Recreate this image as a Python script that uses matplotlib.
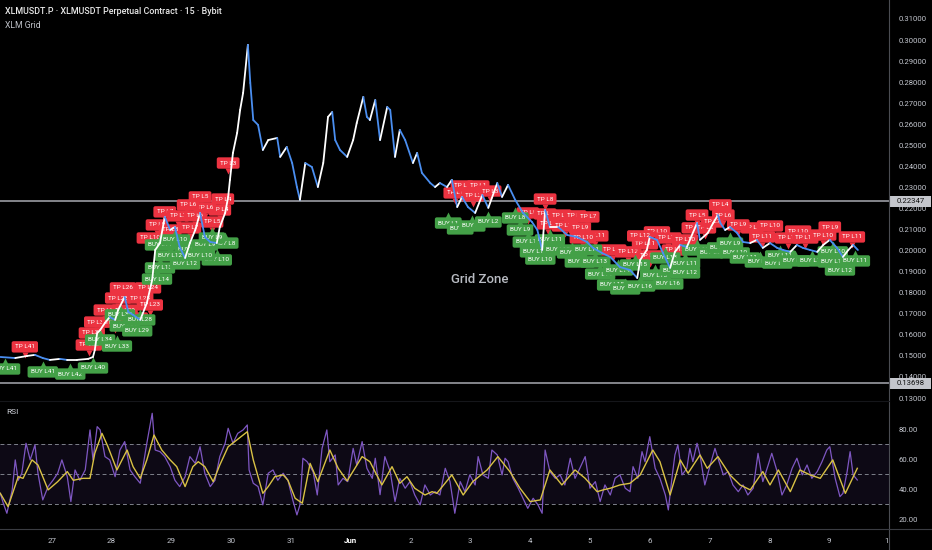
import matplotlib
matplotlib.use("Agg")
import matplotlib.pyplot as plt
import numpy as np
from matplotlib.collections import LineCollection
from matplotlib.patches import Rectangle
from matplotlib import transforms

plt.rcParams['font.family'] = ['Roboto', 'DejaVu Sans']

# x axis is "day of May" (32 = Jun 1)
price_day = [26.14, 26.39, 26.59, 26.72, 26.85, 26.97, 27.14, 27.26, 27.42, 27.61, 27.69, 27.72, 27.76, 27.81,
             27.89, 27.97, 28.06, 28.11, 28.22, 28.28, 28.36, 28.48, 28.59, 28.68, 28.73, 28.81, 28.89, 28.98,
             29.06, 29.14, 29.23, 29.31, 29.40, 29.48, 29.56, 29.65, 29.76, 29.81, 29.90, 29.95, 29.98, 30.03,
             30.10, 30.15, 30.20, 30.28, 30.32, 30.37, 30.45, 30.53, 30.62, 30.77, 30.82, 30.93, 31.02, 31.10,
             31.15, 31.24, 31.35, 31.45, 31.54, 31.62, 31.69, 31.74, 31.82, 31.94, 32.04, 32.10, 32.21, 32.27,
             32.32, 32.41, 32.49, 32.61, 32.66, 32.74, 32.82, 32.91, 33.04, 33.11, 33.19, 33.33, 33.41, 33.49,
             33.61, 33.69, 33.78, 33.86, 33.96, 34.08, 34.20, 34.30, 34.45, 34.53, 34.63, 34.75, 34.88, 35.03,
             35.12, 35.20, 35.25, 35.33, 35.47, 35.62, 35.78, 35.95, 36.05, 36.20, 36.34, 36.50, 36.67, 36.79,
             36.84, 36.95, 37.00, 37.12, 37.22, 37.34, 37.42, 37.51, 37.62, 37.79, 37.84, 37.97, 38.06, 38.14,
             38.18, 38.26, 38.34, 38.46, 38.56, 38.68, 38.79, 38.89, 39.01, 39.13, 39.23, 39.35, 39.46, 39.56,
             39.68, 39.80, 39.90, 40.01, 40.13, 40.23, 40.32, 40.40, 40.48]
price = [0.1495, 0.1490, 0.1500, 0.1505, 0.1490, 0.1481, 0.1486, 0.1481, 0.1481, 0.1486, 0.1495, 0.1528, 0.1609, 0.1623,
         0.1657, 0.1685, 0.1671, 0.1718, 0.1780, 0.1709, 0.1695, 0.1671, 0.1751, 0.1861, 0.2003, 0.2036, 0.2160, 0.2098,
         0.2112, 0.2017, 0.1965, 0.2036, 0.2098, 0.2179, 0.2065, 0.2041, 0.2036, 0.2112, 0.2179, 0.2255, 0.2336, 0.2464,
         0.2559, 0.2668, 0.2749, 0.2977, 0.2796, 0.2620, 0.2597, 0.2478, 0.2525, 0.2535, 0.2445, 0.2492, 0.2416, 0.2302,
         0.2241, 0.2416, 0.2397, 0.2302, 0.2416, 0.2635, 0.2658, 0.2525, 0.2478, 0.2445, 0.2525, 0.2606, 0.2730, 0.2635,
         0.2620, 0.2715, 0.2525, 0.2682, 0.2668, 0.2445, 0.2573, 0.2525, 0.2416, 0.2464, 0.2369, 0.2321, 0.2302, 0.2321,
         0.2302, 0.2336, 0.2207, 0.2255, 0.2207, 0.2179, 0.2264, 0.2203, 0.2321, 0.2255, 0.2312, 0.2241, 0.2179, 0.2136,
         0.2098, 0.2003, 0.2193, 0.2112, 0.2112, 0.2074, 0.2065, 0.2041, 0.2013, 0.1989, 0.1970, 0.1922, 0.1908, 0.1870,
         0.1956, 0.2003, 0.2065, 0.2051, 0.1989, 0.1918, 0.1994, 0.2027, 0.2017, 0.2131, 0.2051, 0.2084, 0.2131, 0.2169,
         0.2131, 0.2098, 0.2112, 0.2084, 0.2041, 0.2036, 0.2051, 0.2013, 0.2036, 0.2013, 0.2003, 0.1994, 0.2027, 0.2013,
         0.2003, 0.1994, 0.2027, 0.2051, 0.2013, 0.1970, 0.2003, 0.2027, 0.2003]

tp_day = [26.55, 27.62, 27.67, 27.76, 28.06, 27.92, 28.22, 28.11, 28.48, 28.19, 28.61, 28.64, 28.39,
          29.48, 29.86, 28.89, 29.11, 28.76, 29.40, 29.68, 29.81, 28.64, 28.98, 29.31, 29.56, 29.28, 29.95,
          33.74, 33.86, 34.13, 34.04, 34.33, 35.25,
          34.96, 35.25, 35.50, 35.75, 35.97, 35.30, 35.58, 35.83, 36.09, 35.88,
          36.39, 36.64, 36.92, 37.12, 37.31, 37.42, 37.59, 37.72, 37.00, 36.84,
          38.18, 37.79, 38.23, 37.92, 38.04,
          38.71, 39.01, 38.88, 38.48, 39.48, 39.31, 39.60, 40.01, 39.90, 40.38]
tp_price = [0.1543, 0.1552, 0.1609, 0.1661, 0.1661, 0.1718, 0.1718, 0.1775, 0.1775, 0.1823, 0.1823, 0.1742, 0.1680,
            0.2255, 0.2245, 0.2184, 0.2165, 0.2122, 0.2165, 0.2136, 0.2193, 0.2060, 0.2098, 0.2108, 0.2203, 0.2217, 0.2416,
            0.2274, 0.2307, 0.2307, 0.2260, 0.2283, 0.2245,
            0.2179, 0.2174, 0.2169, 0.2165, 0.2160, 0.2127, 0.2117, 0.2108, 0.2070, 0.2060,
            0.2003, 0.1994, 0.2032, 0.2089, 0.2060, 0.2003, 0.2051, 0.2108, 0.1975, 0.2070,
            0.2217, 0.2169, 0.2169, 0.2108, 0.2136,
            0.2108, 0.2117, 0.2065, 0.2122, 0.2093, 0.2060, 0.2060, 0.2112, 0.2074, 0.2065]
tp_text = ["TP L41", "TP L38", "TP L36", "TP L34", "TP L32", "TP L30", "TP L29", "TP L28", "TP L25", "TP L26",
           "TP L24", "TP L23", "TP L27",
           "TP L5", "TP L4", "TP L7", "TP L7", "TP L9", "TP L6", "TP L5", "TP L4", "TP L10", "TP L8", "TP L7",
           "TP L6", "TP L6", "TP L3",
           "TP L1", "TP L1", "TP L1", "TP L2", "TP L3", "TP L8",
           "TP L9", "TP L8", "TP L7", "TP L7", "TP L7", "TP L9", "TP L10", "TP L9", "TP L11", "TP L10",
           "TP L10", "TP L12", "TP L11", "TP L10", "TP L11", "TP L12", "TP L10", "TP L9", "TP L13", "TP L12",
           "TP L4", "TP L5", "TP L6", "TP L8", "TP L7",
           "TP L9", "TP L10", "TP L11", "TP L9", "TP L10", "TP L11", "TP L11", "TP L9", "TP L10", "TP L11"]

buy_day = [26.22, 26.85, 27.31, 27.69, 27.81, 28.09, 28.22, 28.43, 28.14, 28.48,
           28.76, 28.81, 29.23, 29.76, 29.90, 28.81, 29.06, 29.31, 29.56, 28.98, 29.48, 29.68,
           33.63, 33.83, 34.03, 34.30,
           34.75, 34.83, 34.96, 35.08, 35.17, 35.33, 35.47, 35.70, 35.95, 35.83, 36.09, 36.17,
           36.37, 36.59, 36.84, 36.47, 36.75, 37.09, 37.31, 37.42, 37.26,
           37.59, 37.59, 37.79, 38.01, 38.21, 38.34, 38.42, 38.59, 38.84, 39.13, 39.18, 39.43,
           39.71, 40.06, 40.06, 40.43, 40.18]
buy_price = [0.1438, 0.1424, 0.1414, 0.1443, 0.1576, 0.1547, 0.1642, 0.1619, 0.1695, 0.1671,
             0.1865, 0.1918, 0.1937, 0.1956, 0.2036, 0.2027, 0.2051, 0.2003, 0.2027, 0.1975, 0.1979, 0.2060,
             0.2131, 0.2103, 0.2117, 0.2136,
             0.2155, 0.2098, 0.2041, 0.1994, 0.1960, 0.2051, 0.2003, 0.1989, 0.2003, 0.1946, 0.1946, 0.1889,
             0.1837, 0.1818, 0.1832, 0.1908, 0.1932, 0.1884, 0.1842, 0.1908, 0.1965,
             0.1941, 0.1894, 0.2003, 0.1989, 0.2013, 0.2036, 0.1989, 0.1965, 0.1946, 0.1941, 0.1975, 0.1951,
             0.1951, 0.1946, 0.1994, 0.1951, 0.1908]
buy_text = ["BUY L41", "BUY L41", "BUY L42", "BUY L40", "BUY L34", "BUY L33", "BUY L31", "BUY L29", "BUY L30",
            "BUY L28",
            "BUY L14", "BUY L13", "BUY L12", "BUY L10", "BUY L8", "BUY L11", "BUY L10", "BUY L11", "BUY L9",
            "BUY L12", "BUY L10", "BUY L9",
            "BUY L1", "BUY L1", "BUY L2", "BUY L2",
            "BUY L8", "BUY L9", "BUY L10", "BUY L11", "BUY L10", "BUY L11", "BUY L12", "BUY L12", "BUY L11",
            "BUY L13", "BUY L13", "BUY L14",
            "BUY L15", "BUY L16", "BUY L16", "BUY L14", "BUY L15", "BUY L15", "BUY L16", "BUY L14", "BUY L13",
            "BUY L11", "BUY L12", "BUY L10", "BUY L9", "BUY L10", "BUY L9", "BUY L10", "BUY L11", "BUY L11",
            "BUY L11", "BUY L11", "BUY L11", "BUY L11", "BUY L11", "BUY L10", "BUY L11", "BUY L12"]

rsi_day = [26.14, 26.19, 26.25, 26.34, 26.39, 26.44, 26.50, 26.57, 26.64, 26.72, 26.77, 26.85, 26.94, 27.02,
           27.10, 27.17, 27.26, 27.32, 27.39, 27.47, 27.56, 27.64, 27.69, 27.76, 27.81, 27.89, 27.97, 28.06,
           28.14, 28.22, 28.31, 28.39, 28.48, 28.59, 28.68, 28.73, 28.81, 28.89, 28.98, 29.06, 29.14, 29.23,
           29.31, 29.40, 29.48, 29.56, 29.65, 29.73, 29.81, 29.90, 29.95, 30.03, 30.11, 30.20, 30.27, 30.30,
           30.37, 30.45, 30.53, 30.62, 30.70, 30.78, 30.87, 30.95, 31.03, 31.10,
           31.15, 31.20, 31.27, 31.37, 31.44, 31.52, 31.60, 31.65, 31.74, 31.79, 31.87, 31.95, 32.04, 32.10,
           32.19, 32.27, 32.36, 32.41, 32.49, 32.57, 32.66, 32.74, 32.82, 32.91, 32.99, 33.07, 33.16, 33.24,
           33.33, 33.41, 33.49, 33.58, 33.66, 33.74, 33.83, 33.91, 33.99, 34.08, 34.13, 34.21, 34.30, 34.36,
           34.45, 34.53, 34.58, 34.63, 34.71, 34.80, 34.88, 34.96, 35.05, 35.13, 35.20, 35.25, 35.33, 35.42,
           35.50, 35.58, 35.67, 35.75, 35.83, 35.92,
           36.00, 36.09, 36.17, 36.25, 36.34, 36.42, 36.50, 36.59, 36.67, 36.72, 36.80, 36.87, 36.92, 37.00,
           37.09, 37.17, 37.26, 37.31, 37.37, 37.42, 37.47, 37.54, 37.62, 37.67, 37.72, 37.79, 37.84, 37.92,
           38.01, 38.09, 38.14, 38.23, 38.31, 38.39, 38.48, 38.56, 38.64, 38.73, 38.81, 38.89, 38.98, 39.04,
           39.13, 39.21, 39.29, 39.38, 39.46, 39.55, 39.63, 39.71, 39.80, 39.88, 39.96, 40.01, 40.10, 40.18,
           40.23, 40.30, 40.35, 40.40, 40.47]
rsi = [37.3, 30.7, 24.0, 39.6, 59.6, 46.0, 50.7, 70.7, 59.6, 69.6, 50.7, 32.9, 41.8, 46.0,
       50.7, 59.6, 48.4, 31.8, 52.9, 46.0, 52.9, 79.6, 59.6, 81.8, 79.6, 61.8, 59.6, 48.4,
       66.2, 71.8, 52.9, 48.4, 44.0, 70.7, 90.7, 66.2, 65.1, 61.8, 55.1, 46.0, 41.8, 48.4,
       61.8, 57.3, 68.4, 50.7, 41.8, 46.0, 61.8, 70.7, 80.7, 70.7, 77.3, 79.6, 82.9, 52.9,
       44.0, 41.8, 29.6, 50.7, 52.9, 46.0, 50.7, 46.0, 32.9, 22.9,
       29.6, 60.7, 58.4, 51.8, 36.2, 67.3, 79.6, 58.4, 62.9, 42.9, 47.3, 45.1, 67.3, 56.2,
       71.8, 54.0, 47.3, 60.7, 36.4, 61.8, 51.8, 31.8, 47.3, 40.7, 45.1, 36.2, 29.6, 42.9,
       36.2, 38.4, 36.2, 54.0, 45.1, 24.0, 45.1, 38.4, 49.6, 42.9, 61.8, 49.6, 47.3, 66.2,
       62.9, 49.6, 60.7, 58.4, 47.3, 40.7, 34.0, 27.3, 34.0, 29.6, 24.0, 66.2, 51.8, 47.3,
       49.6, 42.9, 60.7, 47.3, 54.0, 61.8,
       40.7, 45.1, 31.8, 42.9, 36.2, 47.3, 49.6, 40.7, 38.4, 55.1, 47.3, 65.1, 58.4, 75.1,
       54.0, 47.3, 36.2, 26.2, 47.3, 62.9, 69.6, 49.6, 54.0, 67.3, 58.4, 70.7, 62.9, 42.9,
       56.2, 67.3, 60.7, 49.6, 51.8, 42.9, 38.4, 42.9, 36.2, 40.7, 64.0, 45.1, 56.2, 64.0,
       51.8, 36.2, 42.9, 54.0, 60.7, 49.6, 56.2, 47.3, 51.8, 58.4, 66.2, 68.4, 47.3, 35.1,
       37.3, 51.8, 65.1, 49.6, 46.2]

ma_day = [26.14, 26.27, 26.44, 26.52, 26.67, 26.77, 26.94, 27.10, 27.26, 27.36, 27.52, 27.64, 27.72, 27.84,
          27.94, 28.09, 28.26, 28.36, 28.48, 28.59, 28.71, 28.84, 28.98, 29.09, 29.23, 29.36, 29.45, 29.56,
          29.70, 29.81, 29.95, 30.06, 30.27, 30.37, 30.53, 30.62, 30.73, 30.87, 30.95, 31.07, 31.19, 31.32,
          31.45, 31.65, 31.79, 31.94, 32.19, 32.32, 32.52, 32.69, 32.82, 32.94, 33.07, 33.24, 33.36, 33.44,
          33.69, 33.88, 34.04, 34.28, 34.46, 34.66, 34.83, 35.00, 35.17, 35.33, 35.53, 35.75, 35.92, 36.12,
          36.22, 36.34, 36.50, 36.67, 36.84, 37.05, 37.17, 37.34, 37.51, 37.64, 37.84, 37.96, 38.14, 38.34,
          38.51, 38.68, 38.89, 39.01, 39.15, 39.35, 39.51, 39.68, 39.85, 40.06, 40.27, 40.47]
rsi_ma = [37.3, 28.4, 48.4, 47.3, 59.6, 56.2, 39.6, 45.1, 51.8, 46.0, 47.3, 47.3, 64.0, 77.3,
          68.4, 52.9, 66.2, 55.1, 47.3, 59.6, 76.2, 66.2, 59.6, 55.1, 41.8, 55.1, 58.4, 55.1,
          45.1, 56.2, 68.4, 71.8, 78.4, 59.6, 37.3, 41.8, 48.4, 49.6, 46.0, 34.0, 30.7, 57.3,
          45.1, 66.2, 54.0, 45.6, 61.8, 58.4, 42.9, 55.1, 44.0, 48.4, 40.7, 36.2, 38.4, 37.3,
          49.6, 36.2, 45.1, 52.9, 61.8, 51.8, 40.7, 31.8, 32.9, 52.9, 42.9, 52.9, 47.3, 38.4,
          39.6, 40.7, 42.9, 44.0, 49.6, 66.2, 58.4, 36.2, 59.6, 50.7, 62.9, 54.0, 61.8, 49.6,
          42.9, 39.6, 51.8, 42.9, 52.9, 38.4, 52.9, 49.6, 47.3, 59.6, 37.3, 54.0]

grid_top = 0.22347
grid_bottom = 0.13698
price_ticks = [0.13, 0.14, 0.15, 0.16, 0.17, 0.18, 0.19, 0.20, 0.21, 0.22, 0.23, 0.24, 0.25, 0.26, 0.27,
               0.28, 0.29, 0.30, 0.31]
rsi_ticks = [20, 40, 60, 80]
day_ticks = [27, 28, 29, 30, 31, 32, 33, 34, 35, 36, 37, 38, 39, 40, 41]
day_labels = ['27', '28', '29', '30', '31', 'Jun', '2', '3', '4', '5', '6', '7', '8', '9', '10']

BG = '#000000'
AXIS_TXT = '#c3c6ce'
RED = '#ec3341'
GREEN = '#43a047'
W, H = 932, 550
XMIN, XMAX = 26.135, 41.0

fig = plt.figure(figsize=(W / 100, H / 100), dpi=100, facecolor=BG)
ax = fig.add_axes([0, 1 - 401 / H, 889 / W, 401 / H], facecolor=BG)
ax_rsi = fig.add_axes([0, 21 / H, 889 / W, 128 / H], facecolor=BG)
ax_x = fig.add_axes([0, 0, 889 / W, 21 / H], facecolor=BG)

# ---- price pane
ax.set_xlim(XMIN, XMAX)
ax.set_ylim(0.1286, 0.3190)
for s in ax.spines.values():
    s.set_visible(False)
ax.set_xticks([])
ax.yaxis.tick_right()
ax.set_yticks(price_ticks)
ax.set_yticklabels([f"{t:.5f}" for t in price_ticks])
ax.tick_params(axis='y', length=0, pad=7, labelsize=5.6, labelcolor=AXIS_TXT)

ax.axhline(grid_top, color='#9a9ca3', lw=1.2, zorder=2)
ax.axhline(grid_bottom, color='#9a9ca3', lw=1.2, zorder=2)

# grid labels: box + little pointer (TP points down, BUY points up)
box = dict(boxstyle='round,pad=0.5,rounding_size=0.3', ec='none')
tp_ptr = transforms.offset_copy(ax.transData, fig=fig, y=-8, units='dots')
buy_ptr = transforms.offset_copy(ax.transData, fig=fig, y=8, units='dots')
ax.plot(tp_day, tp_price, ls='none', marker='v', ms=4.5, color=RED, mec='none', transform=tp_ptr,
        zorder=3)
for d, p, t in zip(tp_day, tp_price, tp_text):
    ax.text(d, p, t, ha='center', va='center', fontsize=4.6, color='white', zorder=3, clip_on=True,
            bbox=dict(box, fc=RED))
ax.plot(buy_day, buy_price, ls='none', marker='^', ms=4.5, color=GREEN, mec='none', transform=buy_ptr,
        zorder=3.1)
for d, p, t in zip(buy_day, buy_price, buy_text):
    ax.text(d, p, t, ha='center', va='center', fontsize=4.6, color='white', zorder=3.2, clip_on=True,
            bbox=dict(box, fc=GREEN))

pts = np.column_stack([price_day, price])
segs = np.stack([pts[:-1], pts[1:]], axis=1)
cols = ['#ffffff' if price[i + 1] >= price[i] else '#4a8ef0' for i in range(len(price) - 1)]
ax.add_collection(LineCollection(segs, colors=cols, linewidths=1.3, zorder=4, capstyle='round'))

ax.text(34.15, 0.1861, 'Grid Zone', ha='center', va='center', fontsize=9.5, fontweight='medium',
        color='#b8bbc2', zorder=5)

# price tags on the right scale
tag_tr = transforms.blended_transform_factory(fig.transFigure, ax.transData)
for lvl in [grid_top, grid_bottom]:
    ax.add_patch(Rectangle((890 / W, lvl - 0.0027), 41 / W, 0.0054, transform=tag_tr,
                           fc='#c4c6cc', ec='none', clip_on=False, zorder=6))
    ax.text(911 / W, lvl, f"{lvl:.5f}", transform=tag_tr, ha='center', va='center',
            fontsize=5.6, color='#111111', clip_on=False, zorder=7)

# ---- RSI pane
ax_rsi.set_xlim(XMIN, XMAX)
ax_rsi.set_ylim(13.5, 98.9)
for s in ax_rsi.spines.values():
    s.set_visible(False)
ax_rsi.set_xticks([])
ax_rsi.yaxis.tick_right()
ax_rsi.set_yticks(rsi_ticks)
ax_rsi.set_yticklabels([f"{t:.2f}" for t in rsi_ticks])
ax_rsi.tick_params(axis='y', length=0, pad=7, labelsize=5.6, labelcolor=AXIS_TXT)
ax_rsi.axhspan(30, 70, color='#7e57c2', alpha=0.11, lw=0)
for lvl in [30, 50, 70]:
    ax_rsi.axhline(lvl, color='#7d808a', lw=0.7, ls=(0, (4, 3)))
ax_rsi.plot(rsi_day, rsi, color='#7e57c2', lw=0.9)
ax_rsi.plot(ma_day, rsi_ma, color='#d9c245', lw=1.0)

# ---- time axis strip
ax_x.set_xlim(XMIN, XMAX)
ax_x.set_ylim(0, 1)
ax_x.axis('off')
for d, lab in zip(day_ticks, day_labels):
    ax_x.text(d, 0.45, lab, ha='center', va='center', fontsize=5.8, clip_on=True,
              color='#ffffff' if lab == 'Jun' else AXIS_TXT,
              fontweight='bold' if lab == 'Jun' else 'normal')

# separators
fig.add_artist(plt.Line2D([889 / W, 889 / W], [0, 1], color='#4a4c52', lw=0.8))
fig.add_artist(plt.Line2D([0, 1], [21 / H, 21 / H], color='#3a3c42', lw=0.8))
fig.add_artist(plt.Line2D([0, 889 / W], [1 - 401 / H, 1 - 401 / H], color='#15161a', lw=0.8))

# header
fig.text(5 / W, 1 - 12 / H, 'XLMUSDT.P · XLMUSDT Perpetual Contract · 15 · Bybit', fontsize=6.4,
         fontweight='medium', color='#e8e8e8', va='center', ha='left')
fig.text(5 / W, 1 - 25 / H, 'XLM Grid', fontsize=6.2, color='#c0c3ca', va='center', ha='left')
fig.text(6 / W, 1 - 412 / H, 'RSI', fontsize=6.0, color='#d1d4dc', va='center', ha='left')

fig.savefig('out.png', dpi=100, facecolor=BG)
